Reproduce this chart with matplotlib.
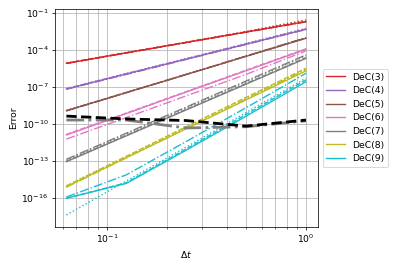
import matplotlib
matplotlib.use("Agg")
import matplotlib.pyplot as plt
from matplotlib.ticker import NullLocator, FixedLocator

# time steps
dts = [0.0625, 0.125, 0.25, 0.5, 1.0]

labels = ["DeC(3)", "DeC(4)", "DeC(5)", "DeC(6)", "DeC(7)", "DeC(8)", "DeC(9)"]
colors = ["tab:red", "tab:purple", "tab:brown", "tab:pink", "tab:gray", "tab:olive", "tab:cyan"]

# errors, one list per variant (solid, dashed, dash-dot, dotted)
err_solid = [
    [8.7e-6, 6.2e-5, 4.3e-4, 3.0e-3, 2.1e-2],
    [7.2e-8, 1.2e-6, 1.9e-5, 3.1e-4, 5.0e-3],
    [1.26e-9, 3.7e-8, 1.07e-6, 3.2e-5, 9.3e-4],
    [1.35e-11, 7.4e-10, 4.1e-8, 2.2e-6, 1.2e-4],
    [9.3e-14, 1.15e-11, 1.45e-9, 1.8e-7, 2.2e-5],
    [8.7e-16, 1.95e-13, 4.3e-11, 9.5e-9, 2.1e-6],
    [1.0e-16, 1.6e-15, 7.9e-13, 4.5e-10, 2.8e-7],
]
err_dashed = [
    [8.9e-6, 6.3e-5, 4.4e-4, 3.1e-3, 2.2e-2],
    [7.6e-8, 1.25e-6, 2.0e-5, 3.3e-4, 5.3e-3],
    [1.3e-9, 3.8e-8, 1.1e-6, 3.3e-5, 9.8e-4],
    [1.5e-11, 8.0e-10, 4.4e-8, 2.4e-6, 1.3e-4],
    [1.0e-13, 1.25e-11, 1.6e-9, 2.0e-7, 2.5e-5],
    [1.0e-15, 2.5e-13, 6.3e-11, 1.5e-8, 3.5e-6],
    [1.0e-16, 1.8e-15, 1.0e-12, 6.3e-10, 4.0e-7],
]
err_dashdot = [
    [8.5e-6, 6.0e-5, 4.2e-4, 2.9e-3, 2.0e-2],
    [6.9e-8, 1.1e-6, 1.8e-5, 2.95e-4, 4.8e-3],
    [1.2e-9, 3.6e-8, 1.1e-6, 3.4e-5, 1.05e-3],
    [6.3e-12, 3.5e-10, 2.0e-8, 1.1e-6, 8.9e-5],
    [1.45e-13, 1.9e-11, 2.45e-9, 3.2e-7, 4.2e-5],
    [7.9e-16, 1.9e-13, 4.6e-11, 1.1e-8, 2.7e-6],
    [1.26e-16, 7.9e-15, 4.0e-12, 2.2e-9, 1.35e-6],
]
err_dotted = [
    [9.0e-6, 6.4e-5, 4.5e-4, 3.3e-3, 2.9e-2],
    [7.9e-8, 1.3e-6, 2.1e-5, 3.5e-4, 6.0e-3],
    [1.28e-9, 3.75e-8, 1.1e-6, 3.3e-5, 1.0e-3],
    [1.4e-11, 7.6e-10, 4.2e-8, 2.3e-6, 1.25e-4],
    [1.2e-13, 1.6e-11, 2.1e-9, 2.8e-7, 3.6e-5],
    [1.05e-15, 2.5e-13, 6.0e-11, 1.4e-8, 3.2e-6],
    [4.4e-18, 2.5e-15, 1.4e-12, 8.9e-10, 5.4e-7],
]

# round-off / reference curves
err_black = [4.6e-10, 2.7e-10, 2.0e-10, 7.1e-11, 2.2e-10]
err_gray = [2.2e-10, 2.2e-10, 5.0e-11, 6.3e-11, 1.9e-10]

fig = plt.figure(figsize=(6, 4), dpi=66.5)
ax = fig.add_axes([0.138, 0.148, 0.659, 0.817])

for i in range(len(labels)):
    c = colors[i]
    ax.loglog(dts, err_solid[i], "-", color=c, label=labels[i])
    ax.loglog(dts, err_dashed[i], "--", color=c)
    ax.loglog(dts, err_dashdot[i], "-.", color=c)
    ax.loglog(dts, err_dotted[i], ":", color=c)

ax.loglog(dts, err_gray, "-.", color="tab:gray", linewidth=3)
ax.loglog(dts, err_black, "--", color="k", linewidth=3)

ax.set_xlim(0.0548, 1.15)
ax.set_ylim(10 ** -18.3, 10 ** -0.68)
ax.yaxis.set_major_locator(FixedLocator([1e-16, 1e-13, 1e-10, 1e-7, 1e-4, 1e-1]))
ax.yaxis.set_minor_locator(NullLocator())

ax.grid(True, which="both")
ax.set_xlabel(r"$\Delta t$")
ax.set_ylabel("Error")
ax.legend(loc="center left", bbox_to_anchor=(1, 0.5))

fig.savefig("out.png", dpi=66.5)
